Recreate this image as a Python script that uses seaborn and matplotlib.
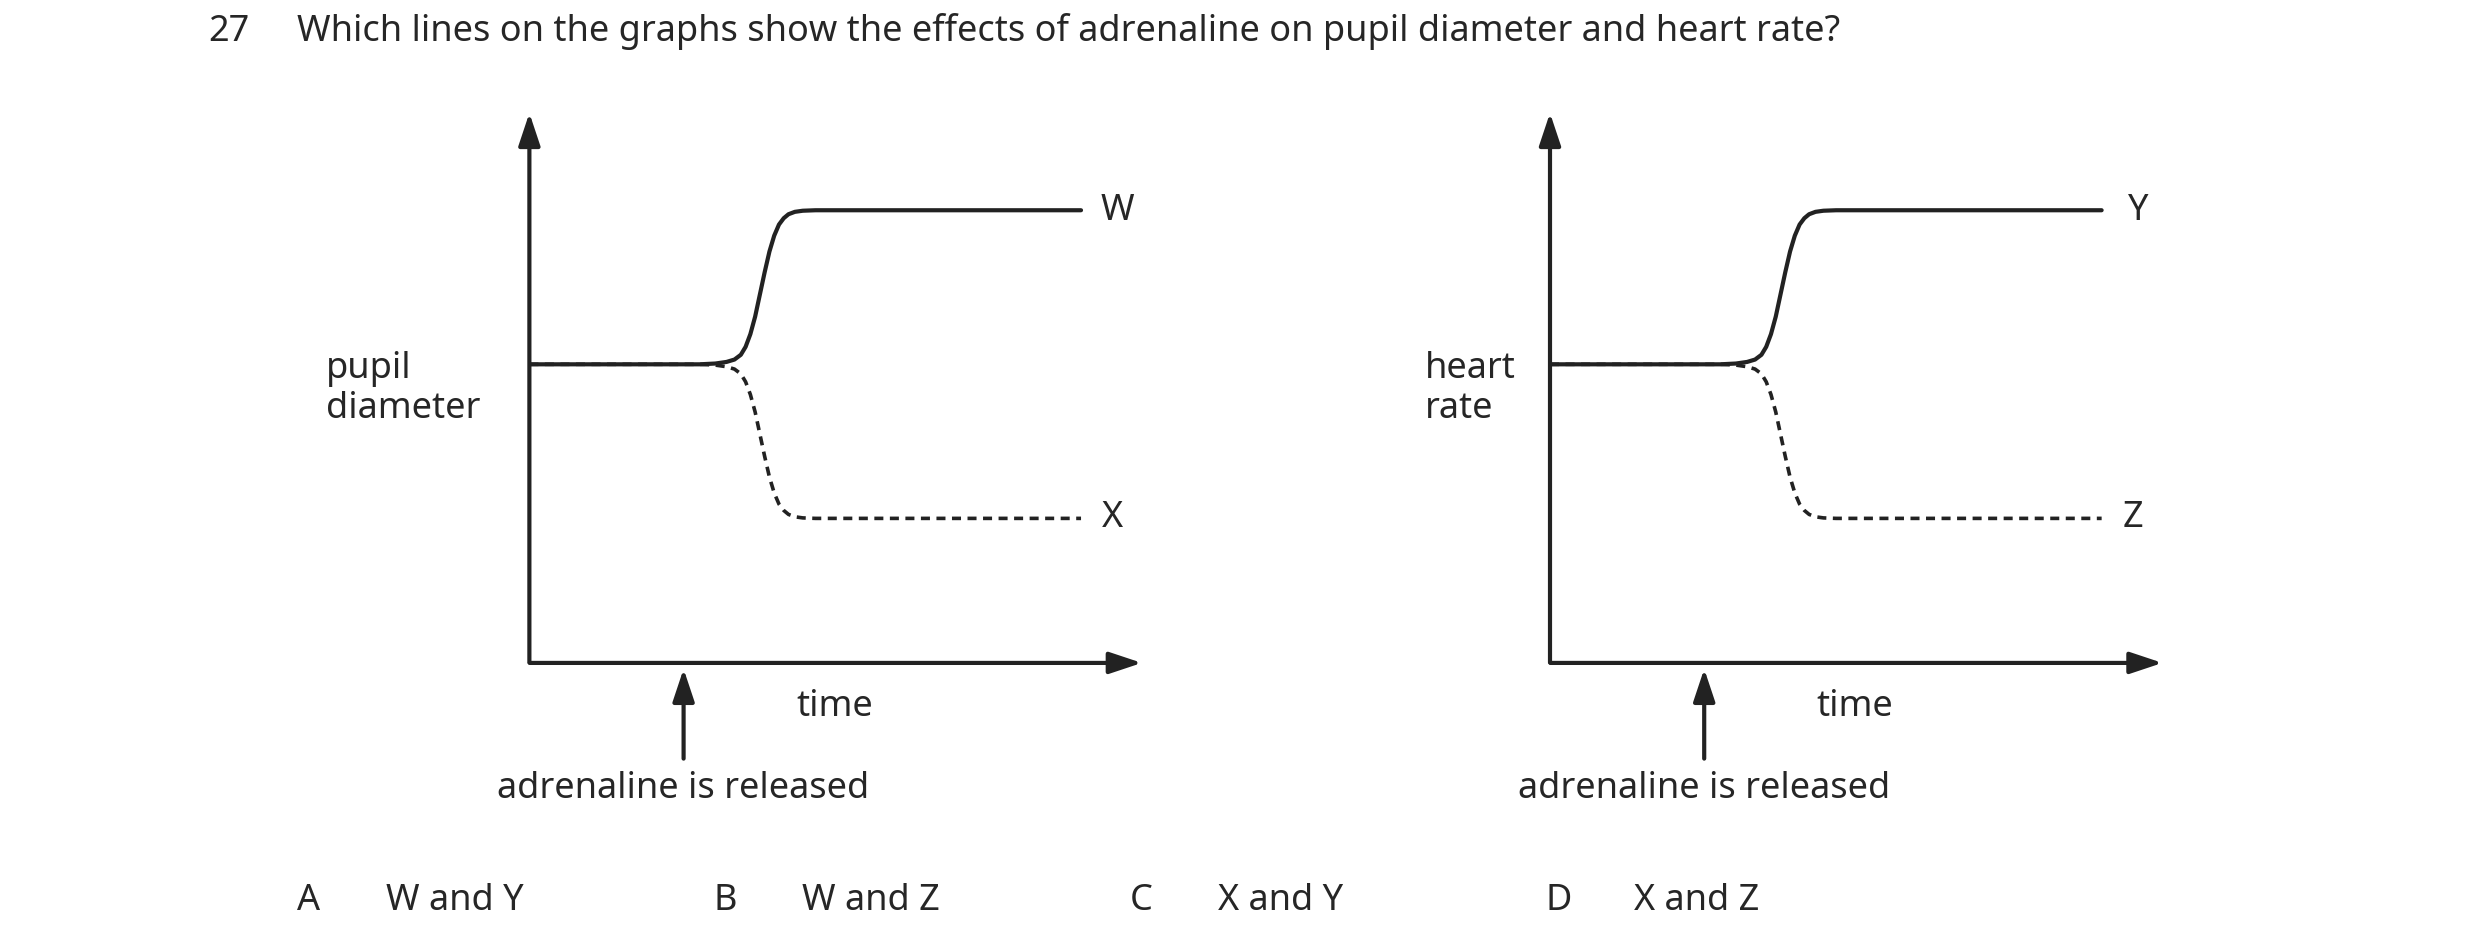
import matplotlib
matplotlib.use("Agg")
import matplotlib.pyplot as plt
import seaborn as sns

sns.set_theme(style="white")
plt.rcParams['font.family'] = ['Noto Sans', 'DejaVu Sans']

# data (graph-local units)
time = [0, 107, 117, 124, 129, 133, 136, 139, 142, 145, 148, 151, 154, 157, 160, 163, 167, 172, 180, 197, 347]
rise = [0, 0, 0.5, 1.5, 3, 6, 11, 19, 30, 44, 58, 71, 81, 88, 92, 94.5, 96, 96.7, 97, 97, 97]
baseline = 188
up_vals = [baseline + r for r in rise]
down_vals = [baseline - r for r in rise]
graphs = [("pupil\ndiameter", "W", "X", -128), ("heart\nrate", "Y", "Z", -79)]
answers = [("A", "W and Y"), ("B", "W and Z"), ("C", "X and Y"), ("D", "X and Z")]

W, H = 1560, 600
fig = plt.figure(figsize=(24.8, 9.53), dpi=100)
FS = 26

def fx(x): return x / W
def fy(y): return 1 - y / H

fig.text(fx(131), fy(20), "27", fontsize=FS, fontweight="bold", va="center")
fig.text(fx(187), fy(20), "Which lines on the graphs show the effects of adrenaline on pupil diameter and heart rate?",
         fontsize=FS, va="center")

for gi, (ylab, top, bot, lx) in enumerate(graphs):
    ox = 333 + 642 * gi
    ax = fig.add_axes([fx(ox), fy(418), 387 / W, 348 / H])
    ax.set_xlim(0, 387); ax.set_ylim(0, 348)
    ax.axis("off")
    sns.lineplot(x=time, y=up_vals, ax=ax, color="#222", lw=3, sort=False)
    sns.lineplot(x=time, y=down_vals, ax=ax, color="#222", lw=2.6, sort=False, linestyle=(0, (2.5, 1.8)))
    ap = dict(arrowstyle="-|>,head_length=0.9,head_width=0.3", color="#222", lw=3, mutation_scale=22)
    ax.annotate("", xy=(0, 348), xytext=(0, -1.5), arrowprops=ap, annotation_clip=False)
    ax.annotate("", xy=(387, 0), xytext=(-1.5, 0), arrowprops=ap, annotation_clip=False)
    ax.annotate("", xy=(97, -2), xytext=(97, -62), arrowprops=ap, annotation_clip=False)
    ax.text(370, 285, top, fontsize=FS, ha="center", va="center")
    ax.text(367, 92, bot, fontsize=FS, ha="center", va="center")
    fig.text(fx(ox + lx), fy(245), ylab, fontsize=FS, va="center", linespacing=1.15)
    fig.text(fx(ox + 192), fy(445), "time", fontsize=FS, ha="center", va="center")
    fig.text(fx(ox + 97), fy(497), "adrenaline is released", fontsize=FS, ha="center", va="center")

for i, (letter, txt) in enumerate(answers):
    x0 = 187 + 261.7 * i
    fig.text(fx(x0), fy(567), letter, fontsize=FS, fontweight="bold", va="center")
    fig.text(fx(x0 + 56), fy(567), txt, fontsize=FS, va="center")

fig.savefig("out.png", dpi=100, facecolor="white")
